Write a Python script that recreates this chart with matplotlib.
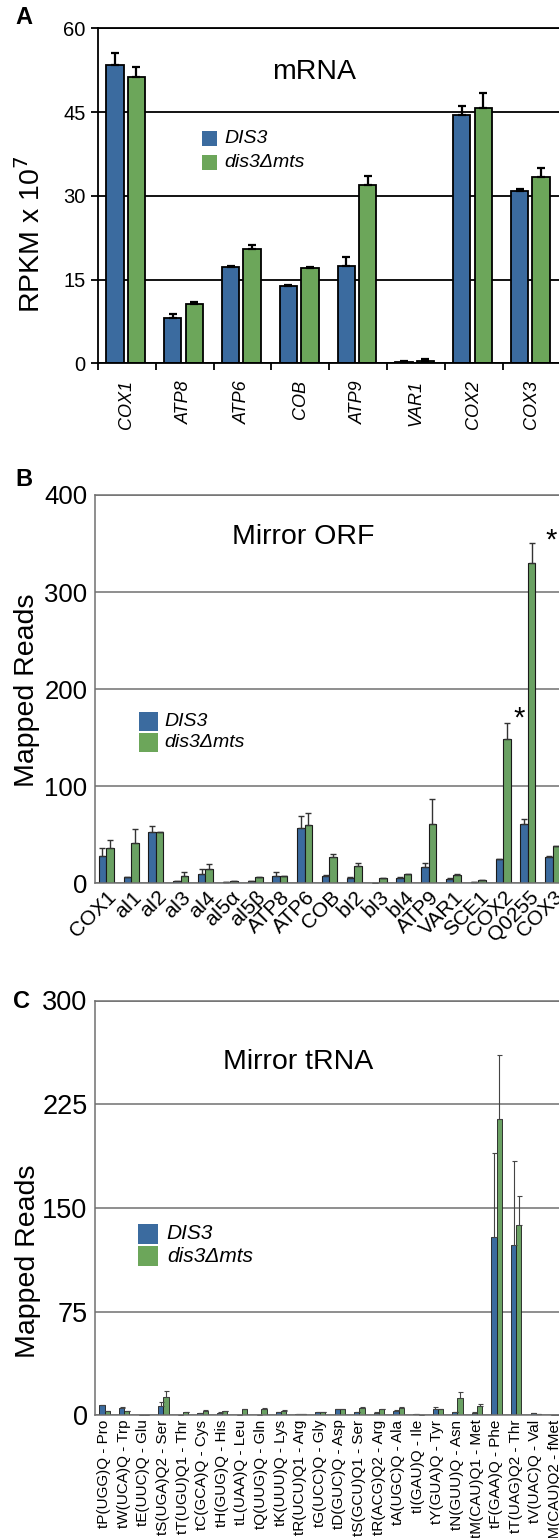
import matplotlib
matplotlib.use("Agg")
import matplotlib.pyplot as plt
import numpy as np
from matplotlib.patches import Rectangle

# panel A - mRNA
mrna_genes = ['COX1', 'ATP8', 'ATP6', 'COB', 'ATP9', 'VAR1', 'COX2', 'COX3']
mrna_dis3 = [53.4, 8.2, 17.2, 13.9, 17.5, 0.3, 44.4, 30.9]
mrna_dis3_err = [2.2, 0.6, 0.2, 0.2, 1.6, 0.2, 1.6, 0.3]
mrna_mts = [51.2, 10.6, 20.5, 17.0, 31.9, 0.5, 45.8, 33.3]
mrna_mts_err = [1.8, 0.3, 0.6, 0.3, 1.7, 0.3, 2.6, 1.6]

# panel B - mirror ORF
orf_names = ['COX1', 'aI1', 'aI2', 'aI3', 'aI4', 'aI5α', 'aI5β', 'ATP8', 'ATP6', 'COB',
             'bI2', 'bI3', 'bI4', 'ATP9', 'VAR1', 'SCE1', 'COX2', 'Q0255', 'COX3']
orf_dis3 = [28.5, 6.5, 52.5, 2.4, 9.6, 1.4, 2.0, 7.6, 56.7, 7.9,
            5.2, 0.7, 5.5, 16.5, 4.5, 1.4, 24.7, 61.1, 27.5]
orf_dis3_err = [8.2, 0, 6.9, 0.3, 5.5, 0, 0, 4.1, 13.0, 0.7,
                1.7, 0, 0.7, 4.1, 0.7, 0, 0.7, 5.2, 0.7]
orf_mts = [36.7, 41.9, 52.5, 7.9, 15.1, 2.0, 6.2, 7.6, 60.1, 27.5,
           17.9, 5.5, 9.6, 61.5, 8.9, 3.8, 148.7, 329.6, 38.5]
orf_mts_err = [7.9, 13.7, 0.7, 4.1, 4.5, 0, 0, 0, 12.7, 2.7,
               2.7, 0, 0.4, 25.4, 0.7, 0, 16.8, 20.6, 0]
orf_stars = [(16.63, 178.5), (17.9, 362.0)]

# panel C - mirror tRNA
trna_names = ['tP(UGG)Q - Pro', 'tW(UCA)Q - Trp', 'tE(UUC)Q - Glu', 'tS(UGA)Q2 - Ser',
              'tT(UGU)Q1 - Thr', 'tC(GCA)Q - Cys', 'tH(GUG)Q - His', 'tL(UAA)Q - Leu',
              'tQ(UUG)Q - Gln', 'tK(UUU)Q - Lys', 'tR(UCU)Q1 - Arg', 'tG(UCC)Q - Gly',
              'tD(GUC)Q - Asp', 'tS(GCU)Q1 - Ser', 'tR(ACG)Q2 - Arg', 'tA(UGC)Q - Ala',
              'tI(GAU)Q - Ile', 'tY(GUA)Q - Tyr', 'tN(GUU)Q - Asn', 'tM(CAU)Q1 - Met',
              'tF(GAA)Q - Phe', 'tT(UAG)Q2 - Thr', 'tV(UAC)Q - Val', 'tM(CAU)Q2 - fMet']
trna_dis3 = [7.3, 5.6, 0, 6.8, 0, 1.5, 1.8, 0.5, 0.5, 2.5, 0.8, 2.5,
             4.3, 2.3, 1.8, 3.5, 1.3, 4.5, 2.5, 2.0, 128.9, 123.0, 1.8, 0]
trna_dis3_err = [0.5, 0.7, 0, 2.6, 0, 0.3, 0.3, 0, 0, 0.3, 0, 0,
                 0.4, 0.3, 0.3, 0.3, 0, 1.6, 0.3, 0.3, 61.1, 60.7, 0, 0]
trna_mts = [3.0, 3.3, 0, 13.1, 2.3, 3.3, 3.0, 4.3, 4.8, 3.5, 0.8, 2.5,
            4.3, 5.6, 4.5, 5.3, 0, 4.3, 12.6, 6.8, 214.0, 137.7, 1.3, 0]
trna_mts_err = [0, 0, 0, 4.3, 0, 0.3, 0.3, 0.3, 0.3, 0.3, 0, 0,
                0.4, 0.3, 0, 0.5, 0, 0, 4.3, 1.3, 46.5, 21.3, 0, 0]

W, H = 559, 1538
blue = '#3b6b9f'
green = '#6ca65a'
green2 = '#6aa163'

plt.rcParams['font.family'] = ['Liberation Sans', 'DejaVu Sans']
fig = plt.figure(figsize=(W / 100, H / 100), dpi=100)


def box(l, t, r, b):
    return [l / W, 1 - b / H, (r - l) / W, (b - t) / H]


def fx(px):
    return px / W


def fy(py):
    return 1 - py / H


def legend(sq, x0, y0, gap, tx, fs):
    for k, (c, lab) in enumerate([(blue, 'DIS3'), (green, 'dis3Δmts')]):
        y = y0 + k * gap
        fig.add_artist(Rectangle((fx(x0), fy(y + sq)), sq / W, sq / H,
                                 transform=fig.transFigure, facecolor=c, edgecolor='none'))
        fig.text(fx(tx), fy(y + sq / 2), lab, style='italic', fontsize=fs, va='center', ha='left')


def one_sided(err):
    return [np.zeros(len(err)), err]


# ---------------- A
axA = fig.add_axes(box(98, 28.3, 560.4, 363.3))
x = np.arange(len(mrna_genes))
ek = dict(ecolor='black', elinewidth=1.6, capsize=3, capthick=1.6)
axA.bar(x - 0.206, mrna_dis3, 0.3, color=blue, edgecolor='black', lw=1.3,
        yerr=one_sided(mrna_dis3_err), error_kw=ek)
axA.bar(x + 0.166, mrna_mts, 0.3, color=green, edgecolor='black', lw=1.3,
        yerr=one_sided(mrna_mts_err), error_kw=ek)
axA.set_xlim(-0.5, len(mrna_genes) - 0.5)
axA.set_ylim(0, 60)
axA.set_yticks([0, 15, 30, 45, 60])
axA.set_axisbelow(True)
axA.yaxis.grid(True, color='black', lw=1.3)
axA.set_xticks(np.arange(len(mrna_genes) + 1) - 0.5)
axA.set_xticklabels([])
axA.set_xticks(x, minor=True)
axA.set_xticklabels(mrna_genes, minor=True, rotation=90, style='italic', fontsize=13, va='top')
axA.tick_params(axis='x', which='minor', length=0, pad=12)
axA.tick_params(axis='x', which='major', length=5, width=1.3, direction='out')
axA.tick_params(axis='y', length=5, width=1.3, labelsize=14.5, pad=4)
for s in ['left', 'bottom', 'top']:
    axA.spines[s].set_linewidth(1.3)
axA.spines['right'].set_visible(False)
fig.text(fx(314), fy(72), 'mRNA', fontsize=20.5, ha='center', va='center')
fig.text(fx(31), fy(234), 'RPKM x 10$^7$', fontsize=20.5, rotation=90, ha='center', va='center')
fig.text(fx(24), fy(18), 'A', fontsize=17, weight='bold', ha='center', va='center')
legend(15, 202, 131, 24, 224, 14)

# ---------------- B
grey = '#707070'
axB = fig.add_axes(box(94.5, 495, 565.7, 883.3))
x = np.arange(len(orf_names))
ek = dict(ecolor='#333333', elinewidth=1.0, capsize=2.2, capthick=1.0)
axB.bar(x - 0.18, orf_dis3, 0.3, color=blue, edgecolor='#1a1a1a', lw=0.8,
        yerr=one_sided(orf_dis3_err), error_kw=ek)
axB.bar(x + 0.125, orf_mts, 0.3, color=green2, edgecolor='#1a1a1a', lw=0.8,
        yerr=one_sided(orf_mts_err), error_kw=ek)
axB.set_xlim(-0.5, len(orf_names) - 0.5)
axB.set_ylim(0, 400)
axB.set_yticks([0, 100, 200, 300, 400])
axB.set_axisbelow(True)
axB.yaxis.grid(True, color=grey, lw=1.1)
axB.set_xticks(x)
axB.set_xticklabels(orf_names, rotation=45, ha='right', va='top', rotation_mode='anchor', fontsize=15)
axB.tick_params(axis='x', length=0, pad=3)
axB.tick_params(axis='y', length=0, labelsize=18.5, pad=5)
for s in ['left', 'bottom', 'top']:
    axB.spines[s].set_color(grey)
    axB.spines[s].set_linewidth(1.1)
axB.spines['right'].set_visible(False)
for sx, sy in orf_stars:
    axB.text(sx, sy - 17, '*', fontsize=21, ha='center', va='baseline')
fig.text(fx(303), fy(537), 'Mirror ORF', fontsize=20.5, ha='center', va='center')
fig.text(fx(27), fy(690), 'Mapped Reads', fontsize=20.5, rotation=90, ha='center', va='center')
fig.text(fx(23.5), fy(480), 'B', fontsize=17, weight='bold', ha='center', va='center')
legend(19, 139, 711.7, 21.3, 164.7, 14)

# ---------------- C
axC = fig.add_axes(box(94.5, 1000.5, 564.9, 1415.4))
x = np.arange(len(trna_names))
ek = dict(ecolor='#444444', elinewidth=0.8, capsize=1.8, capthick=0.8)
axC.bar(x - 0.12, trna_dis3, 0.27, color=blue, edgecolor='#1a1a1a', lw=0.6,
        yerr=one_sided(trna_dis3_err), error_kw=ek)
axC.bar(x + 0.15, trna_mts, 0.27, color=green2, edgecolor='#1a1a1a', lw=0.6,
        yerr=one_sided(trna_mts_err), error_kw=ek)
axC.set_xlim(-0.5, len(trna_names) - 0.5)
axC.set_ylim(0, 300)
axC.set_yticks([0, 75, 150, 225, 300])
axC.set_axisbelow(True)
axC.yaxis.grid(True, color=grey, lw=1.1)
axC.set_xticks(x)
axC.set_xticklabels(trna_names, rotation=90, va='top', fontsize=11)
axC.tick_params(axis='x', length=0, pad=3)
axC.tick_params(axis='y', length=0, labelsize=19.5, pad=5)
for s in ['left', 'bottom', 'top']:
    axC.spines[s].set_color(grey)
    axC.spines[s].set_linewidth(1.1)
axC.spines['right'].set_visible(False)
fig.text(fx(298), fy(1062), 'Mirror tRNA', fontsize=20.5, ha='center', va='center')
fig.text(fx(28.5), fy(1261), 'Mapped Reads', fontsize=20.5, rotation=90, ha='center', va='center')
fig.text(fx(21), fy(1001), 'C', fontsize=17, weight='bold', ha='center', va='center')
legend(20, 138.3, 1223.5, 22.5, 166.8, 15)

fig.savefig('out.png', dpi=100)
